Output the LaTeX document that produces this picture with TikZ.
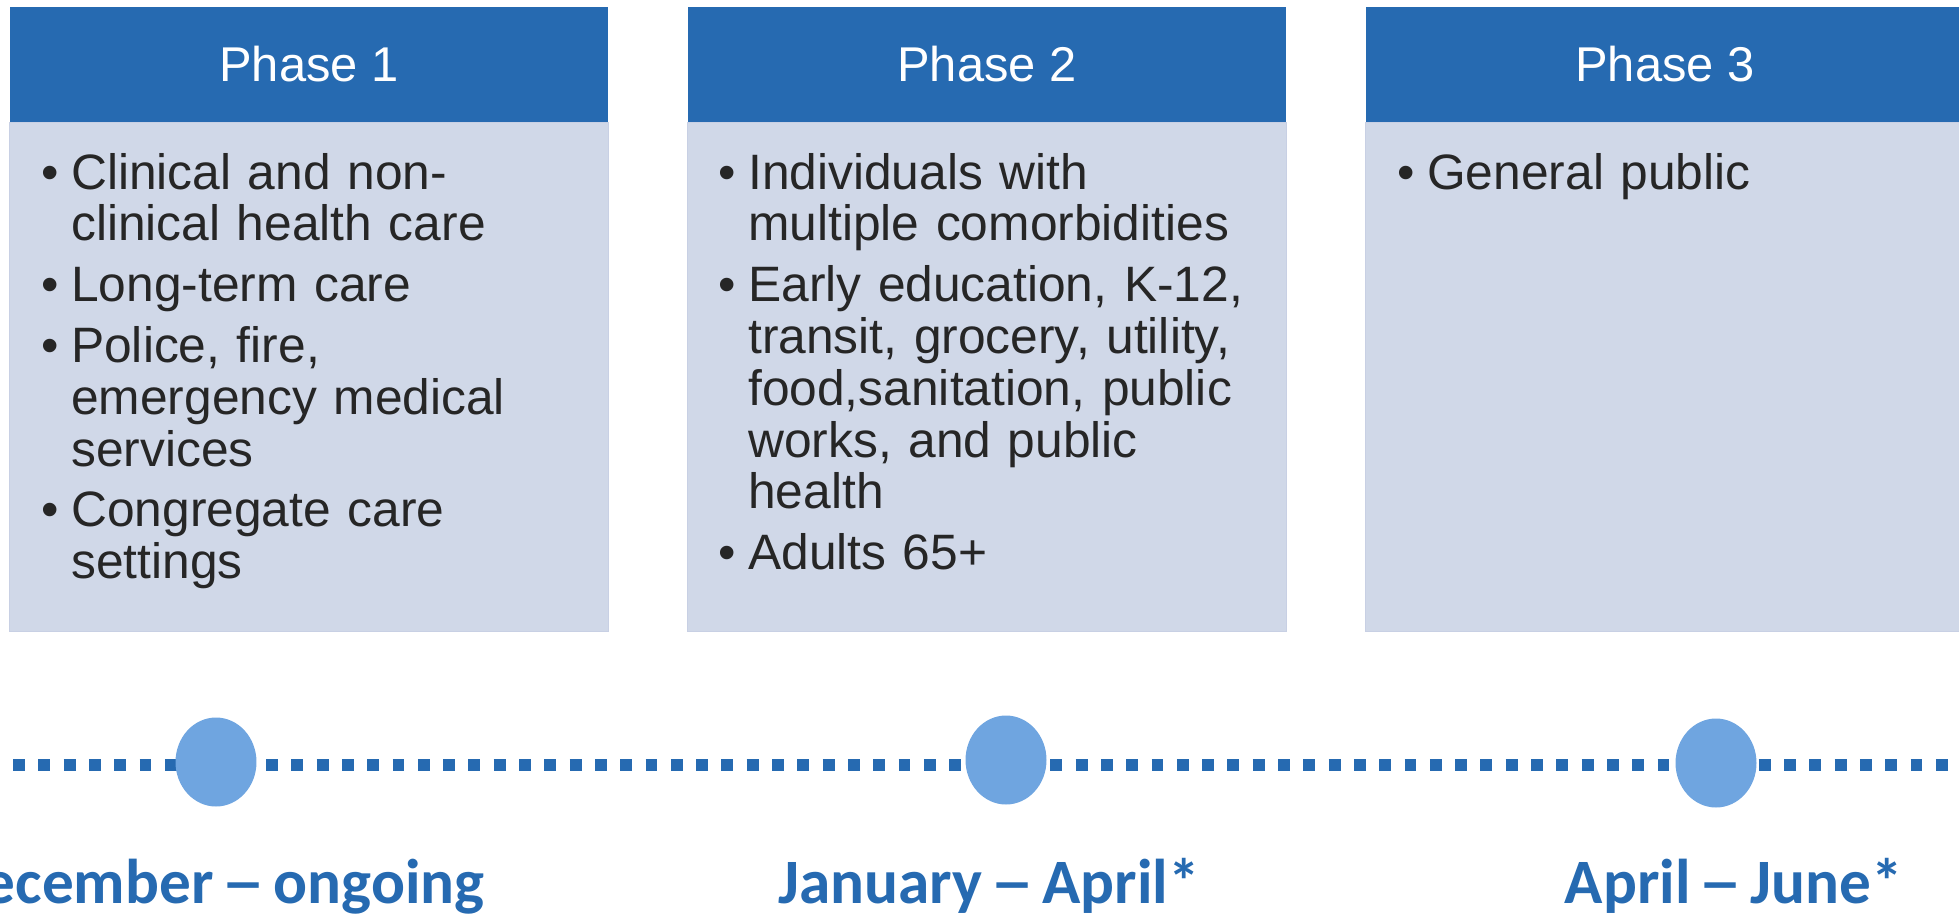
\documentclass[tikz,border=0pt]{standalone}
\usepackage{fontspec}
\usepackage{graphicx}
\setmainfont{Liberation Sans}
\newfontfamily\datefont{Carlito}
\usetikzlibrary{shapes.geometric,positioning}

\definecolor{phaseblue}{RGB}{38,106,177}
\definecolor{bodygrey}{RGB}{208,216,232}
\definecolor{bodyedge}{RGB}{200,208,228}
\definecolor{markblue}{RGB}{111,165,224}
\definecolor{itemgrey}{RGB}{38,38,38}

% one bullet of a phase list
\newcommand{\phitem}[1]{\setlength{\parskip}{5.1pt}\hangindent=17pt\hangafter=1%
  \makebox[17pt][l]{\textbullet}#1\par}
% long dash of the date labels
\newcommand{\datedash}{\makebox[0.498em][c]{\scalebox{1.4}[1]{–}}}

\tikzset{
  phasehead/.style={fill=phaseblue, text=white, inner sep=0pt,
    minimum width=11.98cm, minimum height=2.3cm,
    font=\fontsize{27.8}{30}\selectfont},
  phasebody/.style={fill=bodygrey, draw=bodyedge, line width=0.6pt, inner sep=0pt,
    minimum width=11.98cm, minimum height=10.18cm},
  itemlist/.style={anchor=base west, inner sep=0pt, text width=10.9cm,
    text=itemgrey, font=\fontsize{28.3}{29.5}\selectfont},
  datemark/.style={ellipse, fill=markblue, inner sep=0pt,
    minimum width=1.62cm, minimum height=1.78cm},
  datelabel/.style={anchor=base, inner sep=0pt, text=phaseblue,
    font=\datefont\bfseries\fontsize{36}{40}\selectfont},
  timeline/.style={draw=phaseblue, line width=7.2pt, dash pattern=on 6.8pt off 7.6pt}
}

\begin{document}
\begin{tikzpicture}[x=0.02cm,y=-0.02cm]
\useasboundingbox (0,0) rectangle (1959,916);

% Phase 1
  \node[phasehead] (head1) at (309,64.5) {Phase 1};
  \node[phasebody, below=0pt of head1] (body1) {};
  \node[itemlist] (list1) at (41,189) {%
    \phitem{Clinical and non-\newline clinical health care}%
    \phitem{Long-term care}%
    \phitem{Police, fire,\newline emergency medical\newline services}%
    \phitem{Congregate care\newline settings}};

% Phase 2
  \node[phasehead] (head2) at (987,64.5) {Phase 2};
  \node[phasebody, below=0pt of head2] (body2) {};
  \node[itemlist] (list2) at (718,189) {%
    \phitem{Individuals with\newline multiple comorbidities}%
    \phitem{Early education, K-12,\newline transit, grocery, utility,\newline food,sanitation, public\newline works, and public\newline health}%
    \phitem{Adults 65+}};

% Phase 3
  \node[phasehead] (head3) at (1665,64.5) {Phase 3};
  \node[phasebody, below=0pt of head3] (body3) {};
  \node[itemlist] (list3) at (1397,189) {%
    \phitem{General public}};

% Timeline
  \coordinate (tlstart) at (13,765);
  \coordinate (tlend) at (1959,765);
  \draw[timeline] (tlstart) -- (tlend);

% Date markers
  \node[datemark] (mark1) at (216,762) {};
  \node[datemark] (mark2) at (1006,760) {};
  \node[datemark] (mark3) at (1716,763) {};

% Date labels
  \node[datelabel, anchor=base east] (date1) at (485,903) {December \datedash{} ongoing};
  \node[datelabel] (date2) at (989,903) {January \datedash{} April*};
  \node[datelabel] (date3) at (1734,903) {April \datedash{} June*};
\end{tikzpicture}
\end{document}
